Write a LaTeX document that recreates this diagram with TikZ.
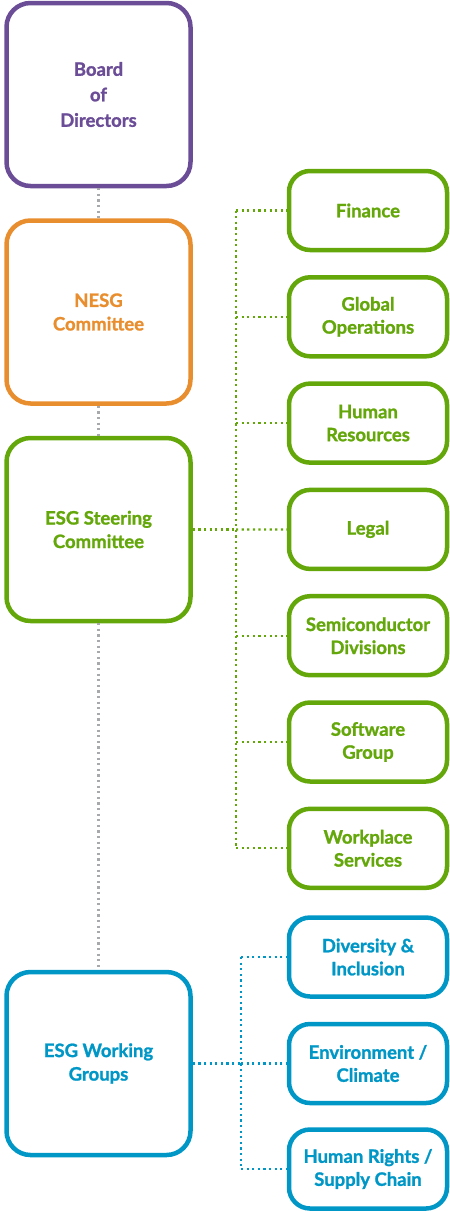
\documentclass[tikz,border=0pt]{standalone}
\usepackage{fontspec}
\setmainfont{Lato}[BoldFeatures={FakeBold=1.3}]
\definecolor{boardpurple}{HTML}{6B4D97}
\definecolor{nesgorange}{HTML}{E98E2F}
\definecolor{esggreen}{HTML}{64A70B}
\definecolor{wgblue}{HTML}{0097C7}
\definecolor{linkgray}{HTML}{A7A9AC}
\tikzstyle{lbox}=[shape=rectangle,
                  rounded corners=24pt,
                  line width=4.5pt,
                  minimum width=184pt,
                  minimum height=183pt,
                  align=center,
                  font=\bfseries\fontsize{18.5}{23.5}\selectfont]
\tikzstyle{rbox}=[shape=rectangle,
                  rounded corners=21pt,
                  line width=4.5pt,
                  minimum width=158pt,
                  minimum height=79pt,
                  align=center,
                  font=\bfseries\fontsize{18.5}{23}\selectfont]
\tikzstyle{bd}=[draw=boardpurple,text=boardpurple]
\tikzstyle{ne}=[draw=nesgorange,text=nesgorange]
\tikzstyle{gr}=[draw=esggreen,text=esggreen]
\tikzstyle{bl}=[draw=wgblue,text=wgblue]
\tikzstyle{dots}=[line width=2.2pt,dash pattern=on 2.2pt off 3.4pt]

\begin{document}
\begin{tikzpicture}[x=1pt,y=1pt,node distance=106.3pt]
\useasboundingbox (0,0) rectangle (450,-1211);

% left column
\node[lbox,bd,font=\bfseries\fontsize{18.5}{25.5}\selectfont] (board) at (98.5,-94.5) {Board\\of\\Directors};
\node[lbox,ne] (nesg) at (98.5,-312) {NESG\\Committee};
\node[lbox,gr] (steering) at (98.5,-529.5) {ESG Steering\\Committee};
\node[lbox,bl] (groups) at (98.5,-1063.5) {ESG Working\\Groups};

% steering committee members
\node[rbox,gr] (finance) at (368,-210.5) {Finance};
\node[rbox,gr] (globalops) [below of=finance] {Global\\Operations};
\node[rbox,gr] (hr) [below of=globalops] {Human\\Resources};
\node[rbox,gr] (legal) [below of=hr] {Legal};
\node[rbox,gr] (semi) [below of=legal] {Semiconductor\\Divisions};
\node[rbox,gr] (software) [below of=semi] {Software\\Group};
\node[rbox,gr] (workplace) [below of=software] {Workplace\\Services};

% working groups
\node[rbox,bl] (diversity) at (368,-957) {Diversity \&\\Inclusion};
\node[rbox,bl] (climate) at (368,-1063.5) {Environment /\\Climate};
\node[rbox,bl] (rights) at (368,-1169) {Human Rights /\\Supply Chain};

% bus points
\coordinate (gbus) at (236,-529.5);
\coordinate (bbus) at (241,-1063.5);

% gray links down the left column
\path[dots,draw=linkgray] (board) edge (nesg)
          (nesg) edge (steering)
          (steering) edge (groups);

% green links
\path[dots,draw=esggreen] (steering.east) edge (gbus)
          (gbus |- finance.west) edge (gbus |- workplace.west)
          (gbus |- finance.west) edge (finance.west)
          (gbus |- globalops.west) edge (globalops.west)
          (gbus |- hr.west) edge (hr.west)
          (gbus) edge (legal.west)
          (gbus |- semi.west) edge (semi.west)
          (gbus |- software.west) edge (software.west)
          (gbus |- workplace.west) edge (workplace.west);

% blue links
\path[dots,draw=wgblue] (groups.east) edge (bbus)
          (bbus |- diversity.west) edge (bbus |- rights.west)
          (bbus |- diversity.west) edge (diversity.west)
          (bbus) edge (climate.west)
          (bbus |- rights.west) edge (rights.west);

\end{tikzpicture}
\end{document}
